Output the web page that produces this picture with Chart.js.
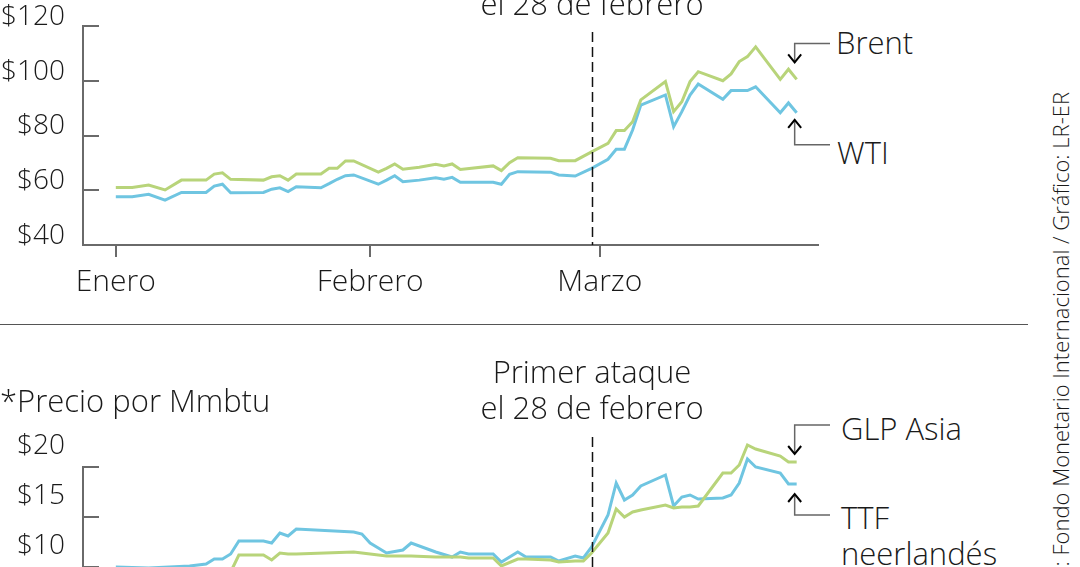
<!DOCTYPE html>
<html>
<head>
<meta charset="utf-8">
<script src="https://cdn.jsdelivr.net/npm/chart.js@4/dist/chart.umd.min.js"></script>
<style>
  html, body { margin: 0; padding: 0; background: #fff; }
  body { width: 1080px; height: 567px; overflow: hidden; position: relative;
         font-family: 'Open Sans', sans-serif; font-weight: 300; color: #1a1a1a; }
  canvas { position: absolute; left: 0; }
  .t { position: absolute; white-space: nowrap; line-height: 1; font-size: 31px; }
  .c { transform: translateX(-50%); text-align: center; }
  #sep { position: absolute; left: 0; top: 324px; width: 1028px; height: 0; border-top: 1.5px solid #555; }
  #src { position: absolute; top: 92px; left: 1049px; font-size: 22px; line-height: 1;
         writing-mode: vertical-rl; transform: rotate(180deg); white-space: nowrap; }
</style>
</head>
<body>
<canvas id="oil" width="830" height="320" style="top:0"></canvas>
<canvas id="gas" width="830" height="420" style="top:330px"></canvas>

<div class="t c" style="left:592px; top:-51px; line-height:36px">Primer ataque<br>el 28 de febrero</div>
<div class="t" style="left:836px; top:27px">Brent</div>
<div class="t" style="left:837px; top:137px">WTI</div>
<div id="sep"></div>
<div class="t" style="left:0; top:385px">*Precio por Mmbtu</div>
<div class="t c" style="left:592px; top:353px; line-height:36px">Primer ataque<br>el 28 de febrero</div>
<div class="t" style="left:841px; top:413px">GLP Asia</div>
<div class="t" style="left:841px; top:499px; line-height:36px">TTF<br>neerlandés</div>
<div id="src">Fuente: Fondo Monetario Internacional / Gráfico: LR-ER</div>

<script>
// días desde el 1 de enero
var oilDays = [0, 2, 4, 6, 8, 11, 12, 13, 14, 18, 19, 20, 21, 22, 25, 26, 27, 28, 29, 32, 33, 34, 35, 37, 39, 40, 41, 42, 46, 47, 48, 49, 53, 54, 56, 58, 60, 61, 62, 63, 64, 67, 68, 69, 70, 71, 74, 75, 76, 77, 78, 81, 82, 83];
var brent = [61.0, 61.0, 61.9, 60.1, 63.7, 63.7, 65.9, 66.4, 64.0, 63.7, 64.9, 65.3, 63.7, 65.9, 65.9, 68.0, 68.0, 70.7, 70.7, 66.6, 68.0, 69.6, 67.7, 68.4, 69.5, 68.9, 69.6, 67.6, 68.9, 67.2, 70.1, 71.9, 71.7, 70.8, 70.8, 74.0, 77.1, 81.8, 81.8, 85.0, 93.0, 99.7, 88.7, 92.3, 99.7, 103.3, 100.0, 102.5, 107.0, 108.8, 112.4, 100.5, 104.2, 100.5];
var wti = [57.6, 57.6, 58.5, 56.4, 59.2, 59.2, 61.5, 62.2, 59.1, 59.2, 60.4, 60.9, 59.5, 61.3, 60.9, 62.4, 64.0, 65.3, 65.6, 62.2, 63.7, 65.3, 63.1, 63.7, 64.6, 64.0, 64.7, 62.9, 62.9, 62.2, 65.8, 66.8, 66.6, 65.6, 65.2, 68.0, 71.3, 75.0, 75.0, 82.0, 91.1, 94.8, 83.2, 88.7, 94.8, 98.8, 93.2, 96.4, 96.4, 96.4, 97.8, 88.3, 91.9, 88.3];

var gasDays = [0, 4, 9, 11, 12, 13, 14, 15, 18, 19, 20, 21, 22, 29, 30, 31, 33, 35, 36, 39, 41, 42, 43, 46, 47, 49, 50, 53, 54, 56, 57, 58, 60, 61, 62, 63, 64, 67, 68, 69, 70, 71, 74, 75, 76, 77, 78, 81, 82, 83];
var glpAsia = [8.6, 8.4, 8.2, 8.3, 8.5, 8.7, 9.5, 11.2, 11.2, 10.7, 11.4, 11.3, 11.3, 11.5, 11.4, 11.3, 11.1, 11.1, 11.1, 11.0, 11.0, 11.0, 10.9, 10.9, 10.1, 10.8, 10.8, 10.7, 10.5, 10.6, 10.6, 11.4, 13.4, 15.8, 15.0, 15.5, 15.7, 16.2, 15.9, 16.0, 16.0, 16.1, 19.4, 19.4, 20.2, 22.2, 21.8, 21.1, 20.5, 20.5];
var ttf = [10.0, 9.9, 10.1, 10.3, 10.8, 10.8, 11.3, 12.6, 12.6, 12.4, 13.4, 13.1, 13.8, 13.5, 13.3, 12.4, 11.4, 11.7, 12.4, 11.5, 11.0, 11.5, 11.3, 11.3, 10.5, 11.5, 11.0, 11.0, 10.6, 11.1, 10.9, 12.0, 15.2, 18.4, 16.7, 17.2, 18.1, 19.2, 16.1, 17.0, 17.2, 16.8, 16.9, 17.2, 18.4, 20.8, 20.0, 19.4, 18.3, 18.3];

var monthTicks = [0, 31, 59];
var monthLabels = ['Enero', 'Febrero', 'Marzo'];
var attackDay = 58;

var GREEN = '#b8d47a', BLUE = '#6fc5e1', AXIS = '#6a6a6a';

Chart.defaults.font.family = "'Open Sans', sans-serif";
Chart.defaults.font.weight = '300';
Chart.defaults.color = '#1a1a1a';

function pts(days, vals) {
  return days.map(function (d, i) { return { x: d, y: vals[i] }; });
}

// linea punteada del ataque y flechas de las etiquetas
var marks = {
  id: 'marks',
  afterDatasetsDraw: function (chart, args, opts) {
    var ctx = chart.ctx, xs = chart.scales.x, area = chart.chartArea;
    var x = Math.round(xs.getPixelForValue(attackDay)) + 0.5;
    ctx.save();
    ctx.strokeStyle = '#111';
    ctx.lineWidth = 1.5;
    ctx.setLineDash([10, 5]);
    ctx.beginPath();
    ctx.moveTo(x, opts.dashTop);
    ctx.lineTo(x, area.bottom);
    ctx.stroke();
    ctx.setLineDash([]);
    opts.callouts.forEach(function (c) {
      var meta = chart.getDatasetMeta(c.ds);
      var last = meta.data[meta.data.length - 1];
      var ax = last.x - 2;
      var tip = last.y + c.dir * c.tip;
      var elbow = last.y + c.dir * c.elbow;
      ctx.strokeStyle = '#666';
      ctx.lineWidth = 1.5;
      ctx.beginPath();
      ctx.moveTo(ax, tip);
      ctx.lineTo(ax, elbow);
      ctx.lineTo(ax + 37, elbow);
      ctx.stroke();
      ctx.strokeStyle = '#000';
      ctx.lineWidth = 2;
      ctx.beginPath();
      ctx.moveTo(ax - 6.5, tip + c.dir * 8);
      ctx.lineTo(ax, tip);
      ctx.lineTo(ax + 6.5, tip + c.dir * 8);
      ctx.stroke();
    });
    ctx.restore();
  }
};

function makeChart(id, days, a, b, y, dashTop, callouts) {
  var canvas = document.getElementById(id);
  return new Chart(canvas, {
    type: 'line',
    data: {
      datasets: [
        { data: pts(days, a), borderColor: GREEN, borderWidth: 3, pointRadius: 0, tension: 0, clip: false },
        { data: pts(days, b), borderColor: BLUE, borderWidth: 3, pointRadius: 0, tension: 0, clip: false }
      ]
    },
    options: {
      responsive: false,
      animation: false,
      events: [],
      layout: { padding: { top: y.top, right: 12, left: 0, bottom: 0 } },
      plugins: {
        legend: { display: false },
        tooltip: { enabled: false },
        marks: { dashTop: dashTop, callouts: callouts }
      },
      scales: {
        x: {
          type: 'linear',
          min: -4,
          max: 85.6,
          afterBuildTicks: function (s) { s.ticks = monthTicks.map(function (v) { return { value: v }; }); },
          afterFit: function (s) {
            s.height = canvas.height - y.bottom;
            s.paddingLeft = 0; s.paddingRight = 0;
          },
          ticks: {
            padding: 7,
            font: { size: 30 },
            color: '#1a1a1a',
            callback: function (v) { return monthLabels[monthTicks.indexOf(v)]; }
          },
          grid: { drawOnChartArea: false, color: AXIS, lineWidth: 2, tickLength: 12 },
          border: { color: AXIS, width: 2 }
        },
        y: {
          min: y.min,
          max: y.max,
          afterFit: function (s) {
            s.width = 83;
            s.paddingTop = 0; s.paddingBottom = 0;
          },
          ticks: {
            stepSize: y.step,
            padding: 34,
            labelOffset: y.labelOffset,
            font: { size: 28 },
            color: '#1a1a1a',
            callback: function (v) { return '$' + v; }
          },
          grid: { drawOnChartArea: false, color: AXIS, lineWidth: 2, tickLength: -16 },
          border: { color: AXIS, width: 2 }
        }
      }
    },
    plugins: [marks]
  });
}

makeChart('oil', oilDays, brent, wti,
  { min: 40, max: 120, step: 20, top: 26, bottom: 245, labelOffset: -9 }, 32,
  [{ ds: 0, dir: -1, tip: 17, elbow: 36 }, { ds: 1, dir: 1, tip: 7, elbow: 32 }]);

makeChart('gas', gasDays, glpAsia, ttf,
  { min: 0, max: 20, step: 5, top: 137, bottom: 337, labelOffset: -21 }, 107,
  [{ ds: 0, dir: -1, tip: 8, elbow: 37 }, { ds: 1, dir: 1, tip: 10, elbow: 31 }]);
</script>
</body>
</html>
